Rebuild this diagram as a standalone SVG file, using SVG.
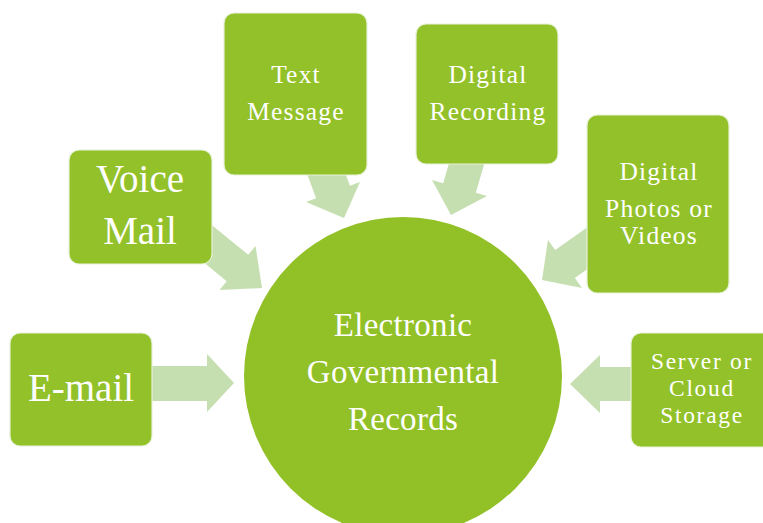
<svg xmlns="http://www.w3.org/2000/svg" width="763" height="523" viewBox="0 0 763 523">
<style>
.box{fill:#93c12a;stroke:#e8f2d8;stroke-width:1.2}
.arr{fill:#c6dfb0}
.t{font-family:"Liberation Serif","Times New Roman",serif;fill:#ffffff;text-anchor:middle}
.m{font-size:25.5px;letter-spacing:1.2px}
.s{font-size:23.5px;letter-spacing:1.7px}
.b{font-size:39px}
.c{font-family:"Liberation Serif",serif;font-size:33px;fill:#ffffff;text-anchor:middle;letter-spacing:0.3px}
</style>
<rect width="763" height="523" fill="#ffffff"/>
<g id="connectors">
<polygon class="arr" points="140,366 207,366 207,354 234,383 207,412 207,401 140,401"/>
<polygon class="arr" points="640,367 600,367 600,355 570,384 600,413 600,401 640,401"/>
<polygon class="arr" points="209.5,223.2 248.3,254.8 255.5,245.9 262,288 219.5,290.1 226.7,281.2 188,249.5"/>
<polygon class="arr" points="332.5,138.9 349.9,185.8 360,182 344,218 306,202 316.1,198.2 298.8,151.4"/>
<polygon class="arr" points="489.8,144.7 475.8,192.7 487,196 451,215 432,180 443.2,183.3 457.1,135.3"/>
<polygon class="arr" points="615.6,249 574.8,277.9 582,288 542,280 548,240 555.2,250.1 596,221.2"/>
</g>
<g id="center">
<circle cx="403" cy="376" r="159" fill="#92c027"/>
<text class="c" x="403" y="336">Electronic</text>
<text class="c" x="403" y="383">Governmental</text>
<text class="c" x="403" y="430">Records</text>
</g>
<g id="email">
<rect class="box" x="10" y="333" width="142" height="113" rx="10"/>
<text class="t b" x="81" y="401">E-mail</text>
</g>
<g id="voicemail">
<rect class="box" x="69" y="150" width="143" height="114" rx="10"/>
<text class="t b" x="140" y="192">Voice</text>
<text class="t b" x="140" y="244">Mail</text>
</g>
<g id="textmessage">
<rect class="box" x="224" y="13" width="143" height="162" rx="10"/>
<text class="t m" x="296" y="83">Text</text>
<text class="t m" x="296" y="120">Message</text>
</g>
<g id="digitalrecording">
<rect class="box" x="416" y="24" width="142" height="140" rx="10"/>
<text class="t m" x="488" y="83">Digital</text>
<text class="t m" x="488" y="120">Recording</text>
</g>
<g id="digitalphotos">
<rect class="box" x="587" y="115" width="142" height="178" rx="10"/>
<text class="t m" x="659" y="180">Digital</text>
<text class="t m" x="659" y="217">Photos or</text>
<text class="t m" x="659" y="244">Videos</text>
</g>
<g id="server">
<rect class="box" x="631" y="333" width="150" height="114" rx="10"/>
<text class="t s" x="702" y="369">Server or</text>
<text class="t s" x="702" y="396">Cloud</text>
<text class="t s" x="702" y="423">Storage</text>
</g>
</svg>
